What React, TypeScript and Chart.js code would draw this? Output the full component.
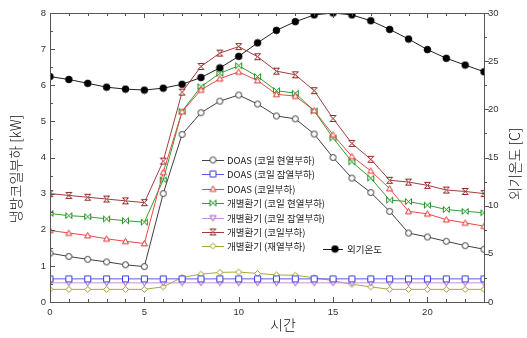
import React, { useEffect, useRef } from 'react';
import { Chart, registerables } from 'chart.js';
Chart.register(...registerables);

const hours = Array.from({ length: 24 }, (_, i) => i);
const doasSensible = [1.35, 1.26, 1.18, 1.11, 1.03, 0.98, 3.0, 4.64, 5.24, 5.56, 5.73, 5.48, 5.15, 5.07, 4.65, 4.0, 3.43, 3.03, 2.51, 1.91, 1.8, 1.68, 1.56, 1.46];
const doasLatent = [0.64, 0.64, 0.64, 0.64, 0.64, 0.64, 0.64, 0.64, 0.64, 0.64, 0.64, 0.64, 0.64, 0.64, 0.64, 0.64, 0.64, 0.64, 0.64, 0.64, 0.64, 0.64, 0.64, 0.64];
const doasCoil = [1.98, 1.91, 1.84, 1.75, 1.68, 1.62, 3.59, 5.27, 5.87, 6.18, 6.37, 6.13, 5.75, 5.7, 5.3, 4.63, 4.03, 3.63, 3.14, 2.51, 2.44, 2.28, 2.19, 2.1];
const indivSensible = [2.45, 2.39, 2.36, 2.3, 2.25, 2.21, 3.38, 5.28, 5.96, 6.33, 6.54, 6.24, 5.85, 5.78, 5.29, 4.54, 3.88, 3.43, 2.82, 2.78, 2.68, 2.56, 2.51, 2.47];
const indivLatent = [0.53, 0.53, 0.53, 0.53, 0.53, 0.53, 0.53, 0.53, 0.53, 0.53, 0.53, 0.53, 0.53, 0.53, 0.53, 0.53, 0.53, 0.53, 0.53, 0.53, 0.53, 0.53, 0.53, 0.53];
const indivCoil = [3.0, 2.95, 2.9, 2.85, 2.8, 2.75, 3.9, 5.81, 6.52, 6.89, 7.07, 6.79, 6.39, 6.29, 5.85, 5.08, 4.39, 3.95, 3.37, 3.32, 3.23, 3.1, 3.06, 3.0];
const indivReheat = [0.35, 0.35, 0.35, 0.35, 0.35, 0.35, 0.42, 0.68, 0.77, 0.82, 0.83, 0.79, 0.75, 0.74, 0.67, 0.59, 0.49, 0.42, 0.35, 0.35, 0.35, 0.35, 0.35, 0.35];
const outdoorTemp = [23.4, 23.1, 22.7, 22.3, 22.1, 22.0, 22.2, 22.6, 23.3, 24.3, 25.5, 26.9, 28.2, 29.1, 29.8, 30.0, 29.8, 29.2, 28.3, 27.3, 26.2, 25.3, 24.6, 23.9];
const xTickValues = [0, 5, 10, 15, 20];

const seriesLabels = [
  'DOAS (코일 현열부하)',
  'DOAS (코일 잠열부하)',
  'DOAS (코일부하)',
  '개별환기 (코일 현열부하)',
  '개별환기 (코일 잠열부하)',
  '개별환기 (코일부하)',
  '개별환기 (재열부하)',
];
const tempLabel = '외기온도';
const xTitle = '시간';
const yTitle = '냉방코일부하 [kW]';
const y1Title = '외기온도 [C]';

type Shape = 'circle' | 'rect' | 'tri' | 'bowtie' | 'downtri' | 'hourglass' | 'diamond' | 'dot';

function makeMarker(shape: Shape, color: string): HTMLCanvasElement {
  const c = document.createElement('canvas');
  c.width = 9; c.height = 9;
  const g = c.getContext('2d')!;
  const cx = 4.5, cy = 4.5, r = 3;
  g.strokeStyle = color;
  g.fillStyle = '#ffffff';
  g.lineWidth = 1;
  g.beginPath();
  switch (shape) {
    case 'circle': g.arc(cx, cy, r, 0, Math.PI * 2); break;
    case 'dot': g.arc(cx, cy, r + 0.3, 0, Math.PI * 2); g.fillStyle = color; break;
    case 'rect': g.rect(cx - r, cy - r, 2 * r, 2 * r); break;
    case 'tri': g.moveTo(cx, cy - r); g.lineTo(cx + r, cy + r * 0.8); g.lineTo(cx - r, cy + r * 0.8); g.closePath(); break;
    case 'downtri': g.moveTo(cx, cy + r); g.lineTo(cx + r, cy - r * 0.8); g.lineTo(cx - r, cy - r * 0.8); g.closePath(); break;
    case 'bowtie': g.moveTo(cx - r, cy - r); g.lineTo(cx + r, cy + r); g.lineTo(cx + r, cy - r); g.lineTo(cx - r, cy + r); g.closePath(); break;
    case 'hourglass': g.moveTo(cx - r, cy - r); g.lineTo(cx + r, cy - r); g.lineTo(cx - r, cy + r); g.lineTo(cx + r, cy + r); g.closePath(); break;
    case 'diamond': g.moveTo(cx, cy - r); g.lineTo(cx + r, cy); g.lineTo(cx, cy + r); g.lineTo(cx - r, cy); g.closePath(); break;
  }
  g.fill();
  g.stroke();
  return c;
}

const seriesStyle: { line: string; mark: string; shape: Shape }[] = [
  { line: '#404040', mark: '#303030', shape: 'circle' },
  { line: '#5a5af0', mark: '#3c3ce0', shape: 'rect' },
  { line: '#e84848', mark: '#e03030', shape: 'tri' },
  { line: '#30a030', mark: '#209020', shape: 'bowtie' },
  { line: '#c890e0', mark: '#a050c8', shape: 'downtri' },
  { line: '#a03c3c', mark: '#902828', shape: 'hourglass' },
  { line: '#a8a838', mark: '#9a9a20', shape: 'diamond' },
];

const FONT_LAT = '"Liberation Sans", Arial, "Noto Sans CJK KR", sans-serif';
const FONT_KR = '"Noto Sans CJK KR", "Liberation Sans", sans-serif';

export default function App() {
  const ref = useRef<HTMLCanvasElement | null>(null);
  useEffect(() => {
    document.body.style.margin = '0';
    const markers = seriesStyle.map((s) => makeMarker(s.shape, s.mark));
    const tempMarker = makeMarker('dot', '#000000');
    const seriesData = [doasSensible, doasLatent, doasCoil, indivSensible, indivLatent, indivCoil, indivReheat];

    const datasets: any[] = seriesData.map((d, i) => ({
      label: seriesLabels[i],
      data: hours.map((h, j) => ({ x: h, y: d[j] })),
      borderColor: seriesStyle[i].line,
      borderWidth: 1,
      pointStyle: markers[i],
      yAxisID: 'y',
    }));
    datasets.push({
      label: tempLabel,
      data: hours.map((h, j) => ({ x: h, y: outdoorTemp[j] })),
      borderColor: '#202020',
      borderWidth: 1,
      pointStyle: tempMarker,
      yAxisID: 'y1',
    });

    const framePlugin = {
      id: 'frame',
      afterDraw(chart: any) {
        const ctx = chart.ctx;
        const a = chart.chartArea;
        const xs = chart.scales.x, ys = chart.scales.y, y1 = chart.scales.y1;
        ctx.save();
        ctx.strokeStyle = '#555555';
        ctx.lineWidth = 1;
        ctx.strokeRect(Math.round(a.left) + 0.5, Math.round(a.top) + 0.5, Math.round(a.right - a.left), Math.round(a.bottom - a.top));
        ctx.beginPath();
        for (let v = 0; v <= 23; v++) {
          const px = Math.round(xs.getPixelForValue(v)) + 0.5;
          const len = v % 5 === 0 ? 5 : 3;
          ctx.moveTo(px, a.bottom); ctx.lineTo(px, a.bottom - len);
          ctx.moveTo(px, a.top); ctx.lineTo(px, a.top + len);
        }
        for (let v = 0; v <= 8; v += 0.5) {
          const py = Math.round(ys.getPixelForValue(v)) + 0.5;
          const len = Number.isInteger(v) ? 5 : 3;
          ctx.moveTo(a.left, py); ctx.lineTo(a.left + len, py);
        }
        for (let v = 0; v <= 30; v += 2.5) {
          const py = Math.round(y1.getPixelForValue(v)) + 0.5;
          const len = v % 5 === 0 ? 5 : 3;
          ctx.moveTo(a.right, py); ctx.lineTo(a.right + len, py);
        }
        ctx.stroke();

        // titles
        ctx.fillStyle = '#111111';
        ctx.font = `300 14px ${FONT_KR}`;
        ctx.textAlign = 'center';
        ctx.textBaseline = 'middle';
        ctx.save();
        ctx.translate(16, 169);
        ctx.rotate(-Math.PI / 2);
        ctx.fillText(yTitle, 0, 0);
        ctx.restore();
        ctx.save();
        ctx.translate(515, 164);
        ctx.rotate(-Math.PI / 2);
        ctx.fillText(y1Title, 0, 0);
        ctx.restore();
        ctx.fillText(xTitle, 283, 325);

        // legend
        ctx.font = `9.5px ${FONT_KR}`;
        ctx.textAlign = 'left';
        const lx = a.left + 152, ly = a.top + 147, step = 14.4;
        seriesLabels.forEach((lab, i) => {
          const y = Math.round(ly + i * step) + 0.5;
          ctx.strokeStyle = seriesStyle[i].line;
          ctx.beginPath(); ctx.moveTo(lx, y); ctx.lineTo(lx + 22, y); ctx.stroke();
          ctx.drawImage(markers[i], lx + 11 - 4.5, y - 5);
          ctx.fillStyle = '#222222';
          ctx.fillText(lab, lx + 25, y);
        });
        const ty = Math.round(a.top + 235.5) + 0.5;
        const tx = a.left + 273;
        ctx.strokeStyle = '#202020';
        ctx.beginPath(); ctx.moveTo(tx, ty); ctx.lineTo(tx + 20, ty); ctx.stroke();
        ctx.drawImage(tempMarker, tx + 12 - 4.5, ty - 5);
        ctx.fillStyle = '#222222';
        ctx.fillText(tempLabel, tx + 24, ty);
        ctx.restore();
      },
    };

    const tickFont = { family: FONT_LAT, size: 9.5 };
    const chart = new Chart(ref.current!, {
      type: 'line',
      data: { datasets },
      options: {
        animation: false,
        responsive: false,
        layout: { padding: { top: 13, left: 0, right: 0, bottom: 0 } },
        plugins: { legend: { display: false }, tooltip: { enabled: false } },
        elements: { line: { tension: 0 }, point: { radius: 4 } },
        scales: {
          x: {
            type: 'linear', min: 0, max: 23,
            ticks: { font: tickFont, color: '#333', padding: 5 },
            afterBuildTicks: (s: any) => { s.ticks = xTickValues.map((v) => ({ value: v })); },
            grid: { display: false, drawTicks: false },
            border: { display: false },
            afterFit: (s: any) => { s.height = 36; },
          },
          y: {
            type: 'linear', position: 'left', min: 0, max: 8,
            ticks: { stepSize: 1, font: tickFont, color: '#333', padding: 4 },
            grid: { display: false, drawTicks: false },
            border: { display: false },
            afterFit: (s: any) => { s.width = 50; },
          },
          y1: {
            type: 'linear', position: 'right', min: 0, max: 30,
            ticks: { stepSize: 5, font: tickFont, color: '#333', padding: 4 },
            grid: { display: false, drawTicks: false },
            border: { display: false },
            afterFit: (s: any) => { s.width = 43; },
          },
        },
      } as any,
      plugins: [framePlugin],
    });
    return () => chart.destroy();
  }, []);
  return (
    <div style={{ width: 527, height: 338 }}>
      <canvas ref={ref} width={527} height={338} />
    </div>
  );
}
